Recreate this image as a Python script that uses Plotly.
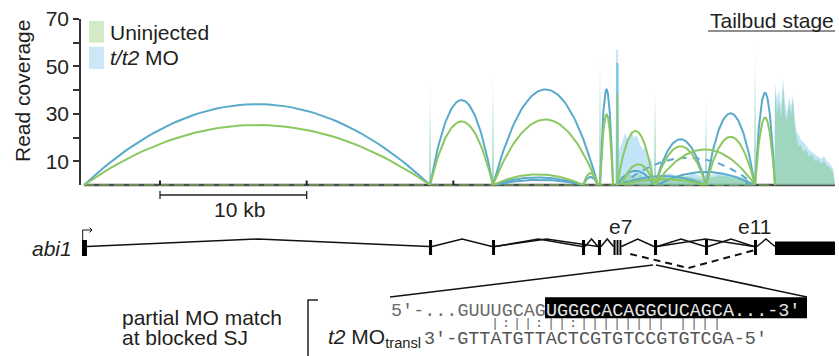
import plotly.graph_objects as go

W, H = 839, 356

# ---------------- data ----------------
# genomic position (kb) of axis ticks and scale bar
tick_kb = [10, 20, 30, 40, 50]
scalebar_kb = [10, 20]

# read-coverage axis
cov_ticks = [10, 30, 50, 70]
cov_minor_ticks = [20, 40, 60]

# splice junctions (kb) with peak junction read coverage (sashimi arcs)
junc_start = [4.82, 28.41, 32.70, 32.70, 38.84, 40.00, 41.16, 41.46, 41.36, 43.89, 43.75, 43.75, 47.23, 50.57, 32.84]
junc_end   = [28.41, 32.70, 39.86, 38.84, 39.86, 40.89, 43.68, 43.75, 47.23, 50.50, 47.23, 50.57, 50.57, 51.93, 38.84]
junc_uninj = [25.3, 26.8, 27.6, 4.5, 5.0, 29.8, 22.8, 8.7, 2.5, None, 16.3, 15.0, 20.3, 28.5, None]
junc_mo    = [34.1, 35.8, 40.3, 3.2, 3.4, 40.3, 6.0, None, 3.8, 5.5, 19.3, None, 30.2, 38.9, 2.2]

# exon-skipping junction e7 -> e11 (t/t2 MO only, dashed)
skip_start = [41.46]
skip_end = [50.57]
skip_mo = [11.5]

# per-base read coverage (kb, uninjected, t/t2 MO)
cov_x = [4.82, 28.35, 28.41, 28.47, 32.64, 32.70, 32.76, 39.94, 40.00, 40.06,
         41.06, 41.10, 41.22, 41.26, 41.50, 41.71, 41.91, 42.11, 42.32, 42.52,
         42.73, 42.93, 43.14, 43.34, 43.55, 43.69, 43.75, 43.81, 44.77, 45.59,
         46.41, 47.09, 47.17, 47.23, 47.29, 48.32, 49.14, 49.95, 50.45, 50.51,
         50.57, 50.63, 51.90, 51.93, 52.07, 52.20, 52.34, 52.48, 52.61, 52.75,
         52.89, 53.02, 53.16, 53.29, 53.43, 53.57, 53.70, 53.84, 54.04, 54.25,
         54.45, 54.66, 54.86, 55.07, 55.27, 55.48, 55.68, 55.89, 56.02]
cov_uninj = [0, 0, 30, 0, 0, 36, 0, 0, 45, 0,
             0, 38.7, 38.7, 3, 4, 3, 5, 4, 4, 3,
             5, 3, 4, 3, 2, 0, 39, 4, 3, 4,
             3, 2, 2, 24.5, 3, 4, 3, 2, 0, 0,
             47, 0, 0, 39, 30, 35, 28, 41, 30, 27,
             34, 29, 36, 24, 19, 16, 17, 14, 15, 12,
             13, 10, 11, 9, 10, 8, 7.5, 5.5, 0]
cov_mo = [0, 0, 43, 0, 0, 47, 0, 0, 54, 0,
          0, 57, 57, 14, 18, 22, 19, 23, 20, 21,
          17, 15, 16, 12, 10, 0, 35, 4, 5, 3,
          5, 3, 3, 38, 4, 5, 4, 3, 0, 0,
          59, 0, 0, 43, 36, 40, 33, 45, 35, 30,
          37, 33, 38, 27, 22, 21, 19, 18, 17, 15,
          14, 13, 12, 11, 12, 10, 9, 7, 0]

# strong read pile-up bar at the e7 cluster
bar_x = [41.18]
bar_uninj = [38.7]
bar_mo = [51.5]

# abi1 gene model (kb)
exon_start = [4.68, 28.34, 32.64, 38.77, 39.86, 40.92, 41.13, 41.33, 43.68, 47.16, 50.50, 51.93]
exon_end   = [5.02, 28.55, 32.84, 38.98, 40.07, 41.06, 41.26, 41.46, 43.89, 47.36, 50.70, 56.02]
intron_donor    = [5.02, 28.55, 32.84, 32.84, 38.98, 40.07, 41.46, 43.89, 43.89, 47.36, 50.70]
intron_acceptor = [28.34, 32.64, 38.77, 39.86, 39.86, 40.92, 43.68, 47.16, 50.50, 50.50, 51.93]
exon_labels = ["e7", "e11"]
exon_label_kb = [41.42, 50.50]

seq_top_plain = "5′-...GUUUGCAG"
seq_top_box = "UGGGCACAGGCUCAGCA...-3′"
seq_match = "|:||:||:|||||||| ||||"
seq_mo = "3′-GTTATGTTACTCGTGTCCGTGTCGA-5′"

# ---------------- styling ----------------
BLUE = "#5aaacb"
GREEN = "#8cc862"
BLUE_FILL = "rgba(125,200,238,0.48)"
GREEN_FILL = "rgba(128,200,140,0.52)"
TXT = "#231f20"
SANS = "Liberation Sans, Arial, sans-serif"
MONO = "Liberation Mono, Courier New, monospace"

KB0 = 10 - 160 / 14.667
KB1 = 10 + (W - 160) / 14.667


def px2kb(p):
    return 10 + (p - 160) / 14.667


def arcs(starts, ends, heights, n=60):
    xs, ys = [], []
    for s, e, h in zip(starts, ends, heights):
        if h is None:
            continue
        for i in range(n + 1):
            t = i / n
            xs.append(s + (e - s) * t)
            ys.append(h * 4 * t * (1 - t))
        xs.append(None)
        ys.append(None)
    return xs, ys


fig = go.Figure()

# coverage fills
fig.add_trace(go.Scatter(x=cov_x, y=cov_mo, mode="lines", fill="tozeroy",
                         fillcolor=BLUE_FILL, line=dict(width=0), xaxis="x", yaxis="y2"))
fig.add_trace(go.Scatter(x=cov_x, y=cov_uninj, mode="lines", fill="tozeroy",
                         fillcolor=GREEN_FILL, line=dict(width=0), xaxis="x", yaxis="y2"))
fig.add_trace(go.Bar(x=bar_x, y=bar_mo, width=0.16, marker=dict(color="#6ec4ea", line=dict(width=0)),
                     xaxis="x", yaxis="y2"))
fig.add_trace(go.Bar(x=bar_x, y=bar_uninj, width=0.16, marker=dict(color="#9ccf70", line=dict(width=0)),
                     xaxis="x", yaxis="y2"))

# sashimi arcs
bx, by = arcs(junc_start, junc_end, junc_mo)
fig.add_trace(go.Scatter(x=bx, y=by, mode="lines", line=dict(color=BLUE, width=2),
                         xaxis="x", yaxis="y2"))
sx, sy = arcs(skip_start, skip_end, skip_mo)
fig.add_trace(go.Scatter(x=sx, y=sy, mode="lines", line=dict(color=BLUE, width=2, dash="7px,6px"),
                         xaxis="x", yaxis="y2"))
gx, gy = arcs(junc_start, junc_end, junc_uninj)
fig.add_trace(go.Scatter(x=gx, y=gy, mode="lines", line=dict(color=GREEN, width=2),
                         xaxis="x", yaxis="y2"))

# genome baseline with ticks (pixel y axis)
BASE_Y = 185
fig.add_trace(go.Scatter(x=[exon_start[0] + 0.14, exon_end[-1]], y=[BASE_Y, BASE_Y], mode="lines",
                         line=dict(color="#4d4d4d", width=2.5), xaxis="x", yaxis="y"))
fig.add_trace(go.Scatter(x=[exon_start[0] + 0.14, exon_end[-1] - 4.1], y=[BASE_Y, BASE_Y], mode="lines",
                         line=dict(color=GREEN, width=1.2, dash="10px,5px"), xaxis="x", yaxis="y"))
tx, ty = [], []
for k in tick_kb:
    tx += [k, k, None]
    ty += [BASE_Y - 4.5, BASE_Y, None]
fig.add_trace(go.Scatter(x=tx, y=ty, mode="lines", line=dict(color="#222", width=2),
                         xaxis="x", yaxis="y"))

# scale bar
SB_Y = 195
fig.add_trace(go.Scatter(x=[scalebar_kb[0], scalebar_kb[0], None, scalebar_kb[0], scalebar_kb[1], None,
                            scalebar_kb[1], scalebar_kb[1]],
                         y=[SB_Y - 4, SB_Y + 4, None, SB_Y, SB_Y, None, SB_Y - 4, SB_Y + 4],
                         mode="lines", line=dict(color="#222", width=1.3), xaxis="x", yaxis="y"))

# gene model introns (chevrons)
IN_Y, PEAK_Y = 246.5, 239
ix, iy = [], []
for d, a in zip(intron_donor, intron_acceptor):
    ix += [d, (d + a) / 2, a, None]
    iy += [IN_Y, PEAK_Y, IN_Y, None]
fig.add_trace(go.Scatter(x=ix, y=iy, mode="lines", line=dict(color="#111", width=1.5),
                         xaxis="x", yaxis="y"))
# dashed exon-skipping connection
fig.add_trace(go.Scatter(x=[skip_start[0] + 0.6, (skip_start[0] + skip_end[0]) / 2, skip_end[0]],
                         y=[254, 268, 250], mode="lines",
                         line=dict(color="#111", width=2, dash="7px,5px"), xaxis="x", yaxis="y"))
# transcription start arrow
fig.add_trace(go.Scatter(x=[exon_start[0] + 0.05, exon_start[0] + 0.05, px2kb(92), None,
                            px2kb(89.5), px2kb(92), px2kb(89.5)],
                         y=[240, 230, 230, None, 227.5, 230, 232.5], mode="lines",
                         line=dict(color="#111", width=1), xaxis="x", yaxis="y"))

shapes = []
for i, (s, e) in enumerate(zip(exon_start, exon_end)):
    if i == 0:
        y0, y1 = 240, 256
    elif i == len(exon_start) - 1:
        y0, y1 = 241.5, 255
    else:
        y0, y1 = 240, 255
    shapes.append(dict(type="rect", xref="x", yref="y", x0=s, x1=e, y0=y0, y1=y1,
                       fillcolor="#000", line=dict(width=0), layer="above"))


def pxp(x):
    return x / W


def pyp(y):
    return 1 - y / H


# legend patches
shapes.append(dict(type="rect", xref="paper", yref="paper", x0=pxp(89), x1=pxp(104), y0=pyp(42.7), y1=pyp(21),
                   fillcolor="#d4eac6", line=dict(width=0)))
shapes.append(dict(type="rect", xref="paper", yref="paper", x0=pxp(89), x1=pxp(104), y0=pyp(69), y1=pyp(46.7),
                   fillcolor="#cce8f6", line=dict(width=0)))
# underline of title
shapes.append(dict(type="line", xref="paper", yref="paper", x0=pxp(708), x1=pxp(835), y0=pyp(31), y1=pyp(31),
                   line=dict(color=TXT, width=1.2)))
# zoom lines to sequence
shapes.append(dict(type="line", xref="paper", yref="paper", x0=pxp(390), x1=pxp(653), y0=pyp(297), y1=pyp(265),
                   line=dict(color="#111", width=1.5)))
shapes.append(dict(type="line", xref="paper", yref="paper", x0=pxp(656), x1=pxp(807), y0=pyp(265), y1=pyp(297),
                   line=dict(color="#111", width=1.5)))
# sequence box
shapes.append(dict(type="rect", xref="paper", yref="paper", x0=pxp(545), x1=pxp(807), y0=pyp(318.3), y1=pyp(297.3),
                   fillcolor="#000", line=dict(width=0)))
# bracket
shapes.append(dict(type="path", xref="paper", yref="paper",
                   path=f"M {pxp(318)} {pyp(300)} L {pxp(308)} {pyp(300)} L {pxp(308)} {pyp(357)}",
                   line=dict(color="#222", width=1.5)))

CH = 11.07
SEQ_X = 390
MATCH_SIZE = 13.5
ann = []


def text(x, y, s, size=21, anchor="left", family=SANS, color=TXT, angle=0):
    ann.append(dict(x=pxp(x), y=pyp(y), xref="paper", yref="paper", text=s, showarrow=False,
                    xanchor=anchor, yanchor="middle", textangle=angle,
                    font=dict(size=size, family=family, color=color), borderpad=0))


text(22.5, 91.5, "Read coverage", anchor="center", angle=-90)
text(109, 32.5, "Uninjected")
text(109, 57.5, "<i>t/t2</i> MO")
text(771.5, 20.5, "Tailbud stage", anchor="center")
text(239, 209, "10 kb", anchor="center")
text(73, 248, "<i>abi1</i>", anchor="right")
for lab, k in zip(exon_labels, exon_label_kb):
    text((k - KB0) / (KB1 - KB0) * W, 226.5, lab, anchor="center")
text(121, 317.5, "partial MO match")
text(121, 337.5, "at blocked SJ")
text(327, 338, "<i>t2</i> MO<sub>transl</sub>")
text(SEQ_X, 311, f"<span style='color:#6a6a6a'>{seq_top_plain}</span><span style='color:#e6e6e6'>{seq_top_box}</span>",
     size=18.45, family=MONO)
for i, ch in enumerate(seq_match):
    if ch != " ":
        text(SEQ_X + (9 + i + 0.5) * CH, 323.5, ch, size=MATCH_SIZE, anchor="center",
             family=MONO, color="#6a6a6a")
text(SEQ_X + 3 * CH, 339.5, seq_mo, size=18.45, family=MONO, color="#555")

fig.update_layout(
    template="none",
    width=W, height=H, autosize=False,
    margin=dict(l=0, r=0, t=0, b=0, pad=0, autoexpand=False),
    paper_bgcolor="white", plot_bgcolor="rgba(0,0,0,0)",
    showlegend=False, barmode="overlay",
    font=dict(family=SANS, size=21, color=TXT),
    xaxis=dict(domain=[0, 1], range=[KB0, KB1], visible=False, fixedrange=True, automargin=False),
    yaxis=dict(domain=[0, 1], range=[H, 0], visible=False, fixedrange=True, anchor="x", automargin=False),
    yaxis2=dict(domain=[1 - 185 / H, 1 - 19 / H], range=[0, 70], anchor="free", position=80 / W,
                showline=True, linecolor="#333", linewidth=1.5, ticks="outside", ticklen=6,
                tickwidth=1.5, tickcolor="#333", tickvals=cov_ticks,
                ticktext=[str(v) for v in cov_ticks],
                minor=dict(tickvals=cov_minor_ticks, ticks="outside", ticklen=6, tickwidth=1.5,
                           tickcolor="#333", showgrid=False),
                tickfont=dict(size=21, family=SANS, color=TXT), showgrid=False, zeroline=False,
                fixedrange=True, automargin=False),
    shapes=shapes, annotations=ann,
)

fig.write_html("out.html", config={"displayModeBar": False},
               post_script="document.body.style.margin='0';")
